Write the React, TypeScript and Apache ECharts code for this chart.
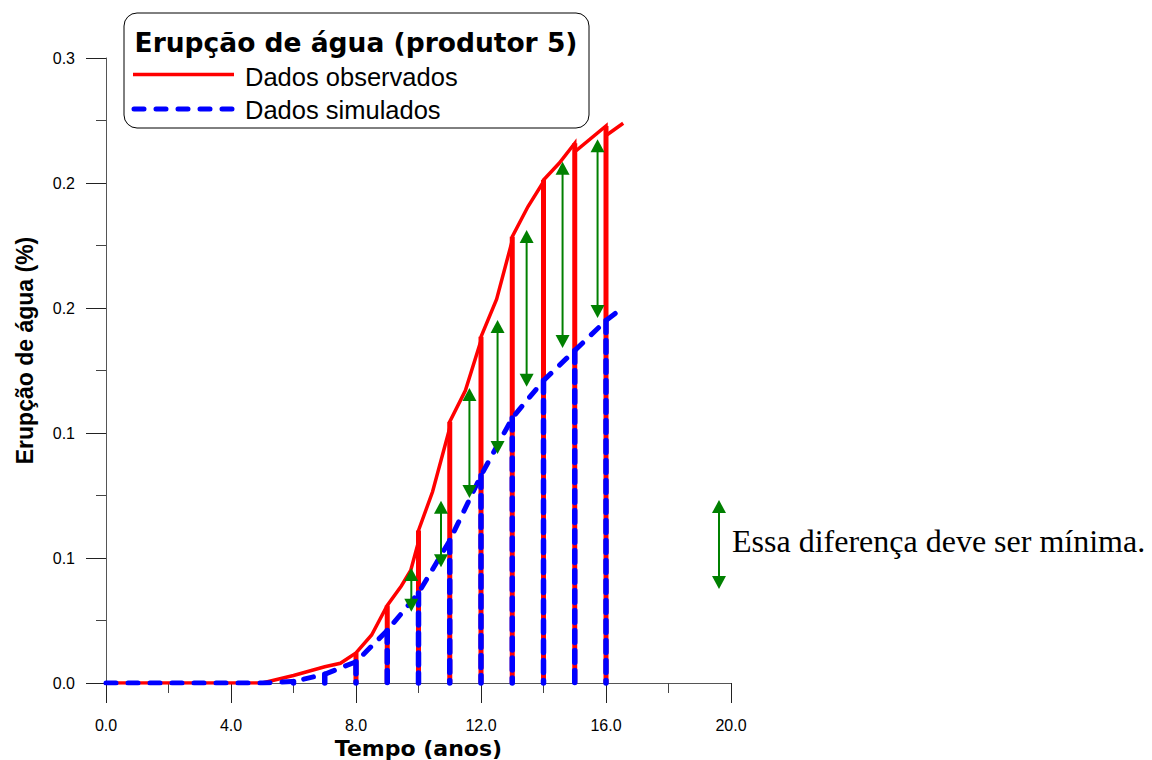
import React, { useEffect, useRef } from "react";
import * as echarts from "echarts";

// Observed data (red), with duplicated times where the curve has a kink
const obsTime = [0, 5, 6, 7, 7.5, 8, 8.5, 9, 9.45, 9.75, 10, 10, 10.45, 11, 11, 11.5, 12, 12, 12.5, 13, 13, 13.5, 14, 14, 14.5, 15, 15, 16, 16, 16.55];
const obsValue = [0, 0, 0.003, 0.0065, 0.0079, 0.012, 0.0192, 0.031, 0.0388, 0.045, 0.0565, 0.061, 0.0765, 0.102, 0.1045, 0.117, 0.137, 0.1385, 0.1535, 0.177, 0.1785, 0.1905, 0.2005, 0.2012, 0.2079, 0.2159, 0.2125, 0.2228, 0.219, 0.2239];
// Yearly samples of observed data (vertical drops)
const obsDropYears = [8, 9, 10, 11, 12, 13, 14, 15, 16];
const obsDropTop = [0.012, 0.031, 0.061, 0.1045, 0.1385, 0.1785, 0.2012, 0.2159, 0.2228];

// Simulated data (blue)
const simTime = [0, 1, 2, 3, 4, 5, 6, 7, 8, 9, 10, 11, 12, 13, 14, 15, 16, 16.5];
const simValue = [0, 0, 0, 0, 0, 0, 0.0006, 0.0035, 0.0085, 0.021, 0.036, 0.057, 0.083, 0.106, 0.121, 0.133, 0.145, 0.1498];
const simDropYears = [6, 7, 8, 9, 10, 11, 12, 13, 14, 15, 16];

// Difference arrows
const arrowX = [9.77, 10.72, 11.63, 12.53, 13.46, 14.61, 15.73];
const arrowTop = [0.046, 0.0729, 0.118, 0.1452, 0.1812, 0.2085, 0.2175];
const arrowBottom = [0.0285, 0.0463, 0.074, 0.0916, 0.1185, 0.134, 0.146];

const yTickLabels = ["0.0", "0.1", "0.1", "0.2", "0.2", "0.3"];
const xTickLabels = ["0.0", "4.0", "8.0", "12.0", "16.0", "20.0"];

const GREEN = "#008000";

function arrowShapes(x: number, yTop: number, yBot: number, color: string) {
  const hw = 7;
  const hh = 13;
  return [
    { type: "line", shape: { x1: x, y1: yTop + hh - 1, x2: x, y2: yBot - hh + 1 }, style: { stroke: color, lineWidth: 2 } },
    { type: "polygon", shape: { points: [[x, yTop], [x - hw, yTop + hh], [x + hw, yTop + hh]] }, style: { fill: color } },
    { type: "polygon", shape: { points: [[x, yBot], [x - hw, yBot - hh], [x + hw, yBot - hh]] }, style: { fill: color } },
  ];
}

export default function App() {
  const ref = useRef<HTMLDivElement>(null);
  useEffect(() => {
    if (!ref.current) return;
    const chart = echarts.init(ref.current, undefined, { renderer: "svg" });

    const obsData = obsTime.map((t, i) => [t, obsValue[i]]);
    const simData = simTime.map((t, i) => [t, simValue[i]]);
    const simDropData = simDropYears.map((t) => [t, simValue[simTime.indexOf(t)]]);
    const dropData = obsDropYears.map((t, i) => [t, obsDropTop[i]]);
    const arrowData = arrowX.map((x, i) => [x, arrowTop[i], arrowBottom[i]]);

    const sans = "'Liberation Sans', Arial, sans-serif";
    const wide = "'DejaVu Sans', Verdana, sans-serif";

    const verticalRenderer = (stroke: string, width: number, dash?: number[]) => (params: any, api: any) => {
      const p0 = api.coord([api.value(0), api.value(1)]);
      const p1 = api.coord([api.value(0), 0]);
      const style: any = { stroke, lineWidth: width };
      if (dash) {
        style.lineDash = dash;
        style.lineCap = "round";
      }
      return {
        type: "line",
        shape: { x1: p0[0], y1: p0[1], x2: p1[0], y2: p1[1] },
        style,
      };
    };

    chart.setOption({
      animation: false,
      backgroundColor: "#ffffff",
      grid: { left: 106, right: 421, top: 58, bottom: 77, containLabel: false, outerBoundsMode: "none" },
      xAxis: {
        type: "value",
        min: 0,
        max: 20,
        interval: 4,
        name: "Tempo (anos)",
        nameLocation: "middle",
        nameGap: 51,
        nameTextStyle: { fontFamily: wide, fontWeight: "bold", fontSize: 22, color: "#000" },
        axisLine: { show: true, onZero: false, lineStyle: { color: "#555", width: 1 } },
        axisTick: { show: true, inside: false, length: 20, lineStyle: { color: "#222", width: 1 } },
        minorTick: { show: true, splitNumber: 2, length: 10, lineStyle: { color: "#444", width: 1 } },
        splitLine: { show: false },
        minorSplitLine: { show: false },
        axisLabel: {
          fontFamily: sans,
          fontSize: 16,
          color: "#000",
          margin: 34,
          formatter: (v: number) => xTickLabels[Math.round(v / 4)] ?? v.toFixed(1),
        },
      },
      yAxis: {
        type: "value",
        min: 0,
        max: 0.25,
        interval: 0.05,
        name: "Erupção de água (%)",
        nameLocation: "middle",
        nameGap: 70,
        nameRotate: 90,
        nameTextStyle: { fontFamily: sans, fontWeight: "bold", fontSize: 23, color: "#000", padding: [0, 0, 0, 40] },
        axisLine: { show: true, lineStyle: { color: "#555", width: 1 } },
        axisTick: { show: true, inside: false, length: 20, lineStyle: { color: "#222", width: 1 } },
        minorTick: { show: true, splitNumber: 2, length: 10, lineStyle: { color: "#444", width: 1 } },
        splitLine: { show: false },
        minorSplitLine: { show: false },
        axisLabel: {
          fontFamily: sans,
          fontSize: 16,
          color: "#000",
          margin: 31,
          formatter: (v: number) => yTickLabels[Math.round(v / 0.05)] ?? v.toFixed(1),
        },
      },
      series: [
        {
          name: "Dados observados",
          type: "line",
          data: obsData,
          showSymbol: false,
          symbol: "none",
          lineStyle: { color: "#ff0000", width: 3.5, join: "miter" },
          z: 2,
        },
        {
          name: "Dados observados (anual)",
          type: "custom",
          data: dropData,
          z: 2,
          renderItem: verticalRenderer("#ff0000", 5),
        },
        {
          name: "Dados simulados",
          type: "line",
          data: simData,
          showSymbol: false,
          symbol: "none",
          lineStyle: { color: "#0000ff", width: 5, type: [10, 12], cap: "round", join: "round" },
          z: 3,
        },
        {
          name: "Dados simulados (anual)",
          type: "custom",
          data: simDropData,
          z: 3,
          renderItem: verticalRenderer("#0000ff", 5.5, [12, 8]),
        },
        {
          name: "Diferença",
          type: "custom",
          data: arrowData,
          z: 4,
          renderItem: (params: any, api: any) => {
            const top = api.coord([api.value(0), api.value(1)]);
            const bot = api.coord([api.value(0), api.value(2)]);
            return { type: "group", children: arrowShapes(top[0], top[1], bot[1], GREEN) };
          },
        },
      ],
      graphic: [
        {
          type: "rect",
          shape: { x: 124, y: 13, width: 465, height: 115, r: 13 },
          style: { fill: "#ffffff", stroke: "#000000", lineWidth: 1 },
          z: 10,
        },
        {
          type: "text",
          x: 356,
          y: 42,
          z: 11,
          style: {
            text: "Erupção de água (produtor 5)",
            fontFamily: wide,
            fontWeight: "bold",
            fontSize: 26.5,
            fill: "#000",
            align: "center",
            verticalAlign: "middle",
          },
        },
        {
          type: "line",
          z: 11,
          shape: { x1: 133, y1: 74.5, x2: 234, y2: 74.5 },
          style: { stroke: "#ff0000", lineWidth: 3.5 },
        },
        {
          type: "text",
          x: 245,
          y: 76.5,
          z: 11,
          style: { text: "Dados observados", fontFamily: sans, fontSize: 25.5, fill: "#000", align: "left", verticalAlign: "middle" },
        },
        {
          type: "line",
          z: 11,
          shape: { x1: 134, y1: 109, x2: 232, y2: 109 },
          style: { stroke: "#0000ff", lineWidth: 5, lineDash: [10, 12], lineCap: "round" },
        },
        {
          type: "text",
          x: 245,
          y: 109.5,
          z: 11,
          style: { text: "Dados simulados", fontFamily: sans, fontSize: 25.5, fill: "#000", align: "left", verticalAlign: "middle" },
        },
        {
          type: "group",
          z: 11,
          children: arrowShapes(719, 500, 589, GREEN),
        },
        {
          type: "text",
          x: 732,
          y: 541,
          z: 11,
          style: {
            text: "Essa diferença deve ser mínima.",
            fontFamily: "'Liberation Serif', 'Times New Roman', serif",
            fontSize: 32,
            fill: "#000",
            align: "left",
            verticalAlign: "middle",
          },
        },
      ],
    });
    return () => chart.dispose();
  }, []);
  return <div ref={ref} style={{ position: "fixed", left: 0, top: 0, width: 1152, height: 760 }} />;
}
